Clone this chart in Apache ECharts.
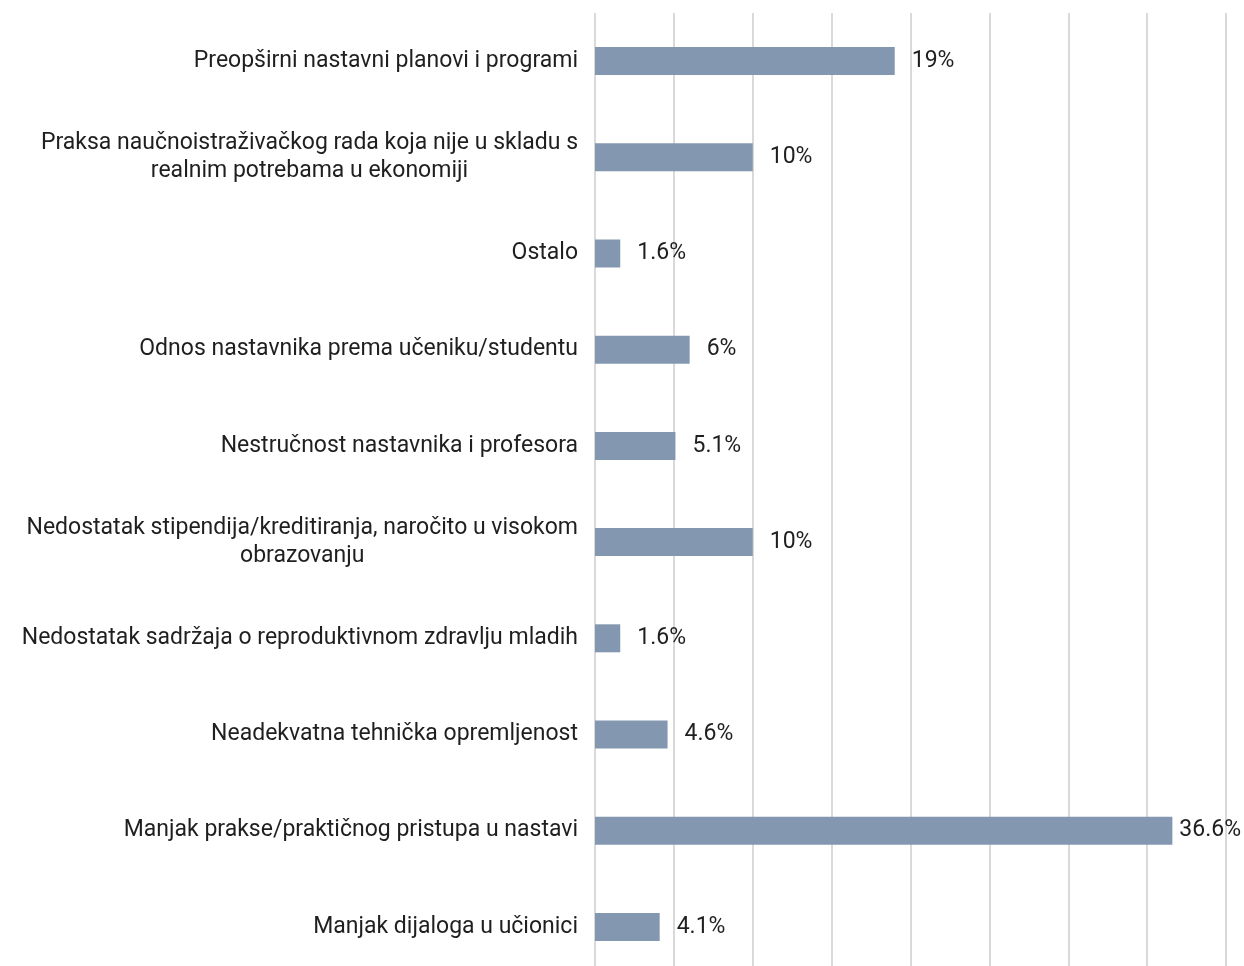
<!DOCTYPE html>
<html>
<head>
<meta charset="utf-8">
<script src="https://cdn.jsdelivr.net/npm/echarts@6/dist/echarts.min.js"></script>
<style>
  html, body { margin: 0; padding: 0; background: #fff; }
  #chart { width: 1244px; height: 966px; }
</style>
</head>
<body>
<div id="chart"></div>
<script>
const categories = [
  'Preopširni nastavni planovi i programi',
  'Praksa naučnoistraživačkog rada koja nije u skladu s\nrealnim potrebama u ekonomiji',
  'Ostalo',
  'Odnos nastavnika prema učeniku/studentu',
  'Nestručnost nastavnika i profesora',
  'Nedostatak stipendija/kreditiranja, naročito u visokom\nobrazovanju',
  'Nedostatak sadržaja o reproduktivnom zdravlju mladih',
  'Neadekvatna tehnička opremljenost',
  'Manjak prakse/praktičnog pristupa u nastavi',
  'Manjak dijaloga u učionici'
]
const values = [19, 10, 1.6, 6, 5.1, 10, 1.6, 4.6, 36.6, 4.1]

const fontFamily = 'Roboto, "Noto Sans", sans-serif'

const chart = echarts.init(document.getElementById('chart'))

// the widest bar keeps its label close, as in the original
const seriesData = values.map((v) => {
  if (v > 30) return { value: v, label: { distance: 7 } }
  return v
})

chart.setOption({
  animation: false,
  grid: {
    left: 595,
    right: 18,
    top: 13,
    height: 962,
    outerBoundsMode: 'none',
    containLabel: false
  },
  xAxis: {
    type: 'value',
    min: 0,
    max: 40,
    interval: 5,
    axisLabel: { show: false },
    axisLine: { show: false },
    axisTick: { show: false },
    splitLine: { lineStyle: { color: '#d9d9d9', width: 2 } }
  },
  yAxis: {
    type: 'category',
    inverse: true,
    data: categories,
    axisLine: { show: false },
    axisTick: { show: false },
    axisLabel: {
      margin: 17,
      formatter: (val) => val.split('\n').map((s) => '{c|' + s + '}').join('\n'),
      rich: {
        c: {
          align: 'center',
          fontSize: 23,
          lineHeight: 28,
          color: '#1f1f1f',
          fontFamily: fontFamily
        }
      }
    }
  },
  series: [
    {
      type: 'bar',
      data: seriesData,
      barWidth: 28,
      itemStyle: { color: '#8497b0' },
      label: {
        show: true,
        position: 'right',
        distance: 17,
        formatter: (p) => p.value + '%',
        fontSize: 23,
        color: '#1f1f1f',
        fontFamily: fontFamily
      }
    }
  ]
})
</script>
</body>
</html>
